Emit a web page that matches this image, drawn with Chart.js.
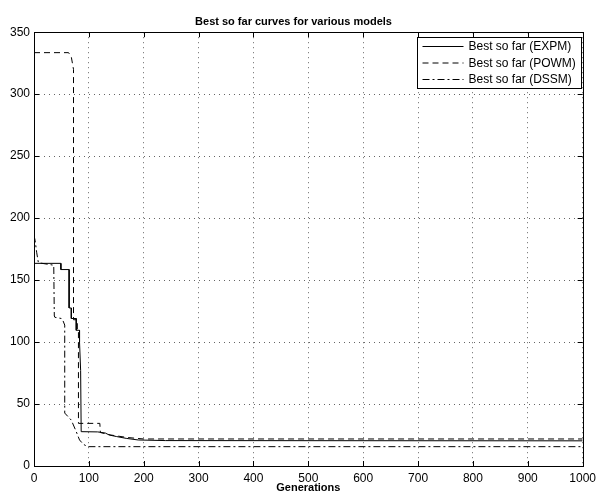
<!DOCTYPE html>
<html lang="en">
<head>
  <meta charset="UTF-8" />
  <title>Best so far curves</title>
  <style>
    html, body { margin: 0; padding: 0; background: #fff; }
    #wrap { width: 601px; height: 495px; }
  </style>
</head>
<body>
  <div id="wrap"><canvas id="bestChart" width="601" height="495"></canvas></div>
  <script src="https://cdn.jsdelivr.net/npm/chart.js"></script>
  <script>
    // best-so-far fitness per generation, one pair of arrays per model
    const expmGen  = [0, 49, 49, 64, 64, 68, 68, 77, 77, 83, 83, 85, 86, 116, 130, 137, 150, 168, 190, 240, 1000];
    const expmBest = [163.5, 163.5, 158.5, 158.5, 127.5, 127.5, 119, 119, 109.5, 109.5, 100, 77, 27.7, 27.5, 26.6, 25, 23.8, 22.3, 21, 20.5, 20.3];

    const powmGen  = [0, 63, 68, 72, 72, 79, 79, 81, 81, 120, 121, 140, 170, 200, 1000];
    const powmBest = [333.5, 333.5, 330, 320, 118, 118, 108, 108, 34.4, 34.4, 27, 25, 23, 21.8, 21.8];

    const dssmGen  = [0, 2, 5, 8, 36, 37, 38, 50, 53, 56, 56, 68, 77, 83, 90, 98, 1000];
    const dssmBest = [186, 182, 172, 164, 162, 121, 120, 119, 117, 113.7, 42.7, 37, 27.7, 21, 17.5, 15.6, 15.6];

    const xTicks = [0, 100, 200, 300, 400, 500, 600, 700, 800, 900, 1000];
    const yTicks = [0, 50, 100, 150, 200, 250, 300, 350];

    const toPoints = (xs, ys) => xs.map((x, i) => ({ x, y: ys[i] }));
    const font = '"Liberation Sans", Arial, Helvetica, sans-serif';

    // matlab-style box with inward tick marks
    const framePlugin = {
      id: 'frame',
      afterDraw(chart) {
        const { ctx, chartArea: a, scales } = chart;
        ctx.save();
        ctx.strokeStyle = '#000';
        ctx.lineWidth = 1;
        ctx.strokeRect(Math.round(a.left) + 0.5, Math.round(a.top) + 0.5,
          Math.round(a.right - a.left), Math.round(a.bottom - a.top));
        ctx.beginPath();
        xTicks.forEach(v => {
          const px = Math.round(scales.x.getPixelForValue(v)) + 0.5;
          ctx.moveTo(px, a.bottom); ctx.lineTo(px, a.bottom - 5);
          ctx.moveTo(px, a.top); ctx.lineTo(px, a.top + 5);
        });
        yTicks.forEach(v => {
          const py = Math.round(scales.y.getPixelForValue(v)) + 0.5;
          ctx.moveTo(a.left, py); ctx.lineTo(a.left + 5, py);
          ctx.moveTo(a.right, py); ctx.lineTo(a.right - 5, py);
        });
        ctx.stroke();
        ctx.restore();
      }
    };

    // boxed legend in the upper right corner of the axes
    const boxLegend = {
      id: 'boxLegend',
      afterDraw(chart) {
        const { ctx } = chart;
        const x0 = 417.5, y0 = 37.5, w = 164, h = 51;
        ctx.save();
        ctx.fillStyle = '#fff';
        ctx.fillRect(x0, y0, w, h);
        ctx.strokeStyle = '#000';
        ctx.lineWidth = 1;
        ctx.strokeRect(x0, y0, w, h);
        ctx.font = '12px ' + font;
        ctx.textBaseline = 'middle';
        ctx.fillStyle = '#000';
        chart.data.datasets.forEach((ds, i) => {
          const y = 46.5 + i * 16.5;
          ctx.beginPath();
          ctx.setLineDash(ds.borderDash || []);
          ctx.moveTo(x0 + 5, y);
          ctx.lineTo(x0 + 46, y);
          ctx.stroke();
          ctx.setLineDash([]);
          ctx.fillText(ds.label, x0 + 51, y + 0.5);
        });
        ctx.restore();
      }
    };

    const lineSet = (label, xs, ys, dash) => ({
      label,
      data: toPoints(xs, ys),
      borderColor: '#000',
      borderWidth: 1,
      borderDash: dash,
      pointRadius: 0,
      showLine: true,
      tension: 0,
      fill: false
    });

    new Chart(document.getElementById('bestChart').getContext('2d'), {
      type: 'scatter',
      data: {
        datasets: [
          lineSet('Best so far (EXPM)', expmGen, expmBest, []),
          lineSet('Best so far (POWM)', powmGen, powmBest, [6, 4]),
          lineSet('Best so far (DSSM)', dssmGen, dssmBest, [7, 3, 2, 3])
        ]
      },
      options: {
        responsive: false,
        animation: false,
        layout: { padding: { left: 0, right: 14, top: 0, bottom: 0 } },
        plugins: {
          legend: { display: false },
          tooltip: { enabled: false },
          title: {
            display: true,
            text: 'Best so far curves for various models',
            color: '#000',
            font: { family: font, size: 11, weight: 'bold' },
            padding: { top: 15, bottom: 4 }
          }
        },
        scales: {
          x: {
            type: 'linear',
            min: 0,
            max: 1000,
            afterFit(scale) { scale.height = 29; },
            afterBuildTicks(scale) { scale.ticks = xTicks.map(v => ({ value: v })); },
            ticks: {
              color: '#000',
              font: { family: font, size: 12 },
              padding: 5,
              maxRotation: 0,
              callback: v => String(v)
            },
            grid: { color: 'rgba(0,0,0,0.6)', drawTicks: false, lineWidth: 1 },
            border: { display: false, dash: [1, 4] },
            title: {
              display: true,
              text: 'Generations',
              color: '#000',
              font: { family: font, size: 11, weight: 'bold' },
              padding: { top: 0, bottom: 0 }
            }
          },
          y: {
            type: 'linear',
            min: 0,
            max: 350,
            afterFit(scale) { scale.width = 34; },
            afterBuildTicks(scale) { scale.ticks = yTicks.map(v => ({ value: v })); },
            ticks: { color: '#000', font: { family: font, size: 12 }, padding: 4, callback: v => String(v) },
            grid: { color: 'rgba(0,0,0,0.6)', drawTicks: false, lineWidth: 1 },
            border: { display: false, dash: [1, 4] }
          }
        }
      },
      plugins: [framePlugin, boxLegend]
    });
  </script>
</body>
</html>
